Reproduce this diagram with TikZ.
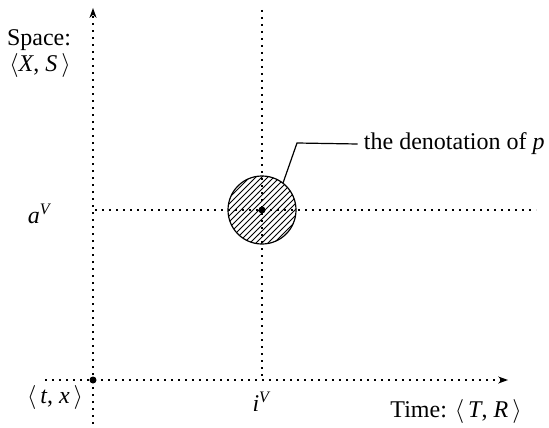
\documentclass[tikz,border=0pt]{standalone}
\usepackage{fontspec}
\setmainfont{Liberation Serif}
\usetikzlibrary{arrows.meta,patterns}

\tikzset{
  dots/.style={line width=0.9pt, dash pattern=on 0.9pt off 2.6pt},
  axis/.style={dots, -{Stealth[length=5pt,width=3.6pt,line width=0pt]}},
  lbl/.style={inner sep=0pt, font=\fontsize{12}{14}\selectfont},
}

\begin{document}
\begin{tikzpicture}[x=0.5pt, y=-0.5pt]
    \useasboundingbox (0,0) rectangle (549,427);

    % points
    \coordinate (o) at (93,380);
    \coordinate (c) at (262,210);

    % axes
    \draw[axis] (93,424) -- (93,8);
    \draw[axis] (45,380) -- (508,380);

    % guide lines through the denotation
    \draw[dots] (262,10) -- (262,376);
    \draw[dots] (95,210) -- (536,210);

    % the denotation of p
    \draw[line width=0.6pt, pattern=north east lines] (c) circle (34);
    \fill (c) circle (3.5);
    \fill (o) circle (3.5);
    \node[lbl, anchor=east] (den) at (545,144) {the denotation of \textit{p}};
    \draw[line width=0.6pt] (c) ++(-52:34) coordinate (rim) -- (297,143) -- ([xshift=-3pt]den.west);

    % labels
    \node[lbl] (space) at (39,40) {Space:};
    \node[lbl] (spc) at (40,66) {$\langle$\textit{X}, \textit{S}\,$\rangle$};
    \node[lbl] (av) at (40,214) {\textit{a}\textsuperscript{\textit{V}}};
    \node[lbl] (tx) at (55,397) {$\langle$\,\textit{t}, \textit{x}\,$\rangle$};
    \node[lbl] (iv) at (262,402) {\textit{i}\textsuperscript{\textit{V}}};
    \node[lbl] (time) at (456,411) {Time: $\langle$\,\textit{T}, \textit{R}\,$\rangle$};
\end{tikzpicture}
\end{document}
